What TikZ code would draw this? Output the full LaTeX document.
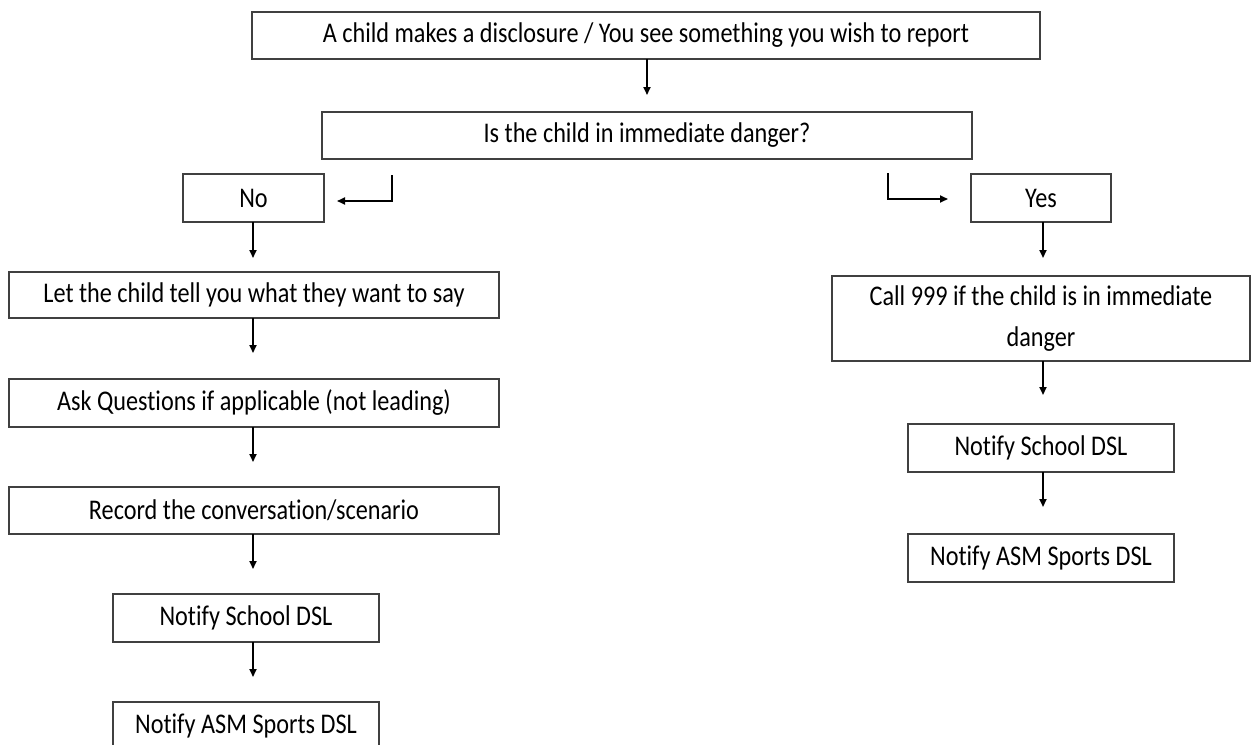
\documentclass[tikz,border=0pt]{standalone}
\usepackage{fontspec}
\setmainfont{Carlito}[FakeStretch=0.85,Ligatures=NoCommon]
\usetikzlibrary{arrows.meta}
\begin{document}
\begin{tikzpicture}[x=1pt,y=-1pt,
  box/.style={draw=black!75,line width=1.4pt,fill=white,inner sep=0pt,outer sep=0pt,
    font=\fontsize{28.5}{41}\selectfont,text=black,align=center},
  arr/.style={draw=black,line width=1.8pt,-{Triangle[length=8pt,width=7pt]}}]
\useasboundingbox (0,0) rectangle (1252,744);
% nodes
\node[box,minimum width=788,minimum height=47] (top) at (646,35.5) {A child makes a disclosure / You see something you wish to report};
\node[box,minimum width=650,minimum height=47] (q) at (647,135.5) {Is the child in immediate danger?};
\node[box,minimum width=141,minimum height=48] (no) at (253.5,198) {No};
\node[box,minimum width=140,minimum height=48] (yes) at (1041,198) {Yes};
\node[box,minimum width=490,minimum height=46] (let) at (254,295) {Let the child tell you what they want to say};
\node[box,minimum width=490,minimum height=48] (ask) at (254,403) {Ask Questions if applicable (not leading)};
\node[box,minimum width=490,minimum height=47] (rec) at (254,510.5) {Record the conversation/scenario};
\node[box,minimum width=266,minimum height=48] (schl) at (246,618) {Notify School DSL};
\node[box,minimum width=266,minimum height=48] (asml) at (246,726) {Notify ASM Sports DSL};
\node[box,minimum width=418,minimum height=85] (call) at (1041,318.5) {Call 999 if the child is in immediate\\danger};
\node[box,minimum width=266,minimum height=48] (schr) at (1041,448) {Notify School DSL};
\node[box,minimum width=266,minimum height=48] (asmr) at (1041,558) {Notify ASM Sports DSL};
% arrow ends
\coordinate (t1) at (647,95);
\coordinate (t2) at (253,258);
\coordinate (t3) at (253,353);
\coordinate (t4) at (253,462);
\coordinate (t5) at (253,569);
\coordinate (t6) at (253,677);
\coordinate (t7) at (1043,258);
\coordinate (t8) at (1043,395);
\coordinate (t9) at (1043,507);
\coordinate (ns) at (392,175);
\coordinate (nc) at (392,201);
\coordinate (ne) at (337,201);
\coordinate (ys) at (888,173);
\coordinate (yc) at (888,199);
\coordinate (ye) at (948,199);
% connectors
\draw[arr] (top.south -| t1) -- (t1);
\draw[arr] (no.south -| t2) -- (t2);
\draw[arr] (let.south -| t3) -- (t3);
\draw[arr] (ask.south -| t4) -- (t4);
\draw[arr] (rec.south -| t5) -- (t5);
\draw[arr] (schl.south -| t6) -- (t6);
\draw[arr] (yes.south -| t7) -- (t7);
\draw[arr] (call.south -| t8) -- (t8);
\draw[arr] (schr.south -| t9) -- (t9);
\draw[arr] (ns) -- (nc) -- (ne);
\draw[arr] (ys) -- (yc) -- (ye);
\end{tikzpicture}
\end{document}
